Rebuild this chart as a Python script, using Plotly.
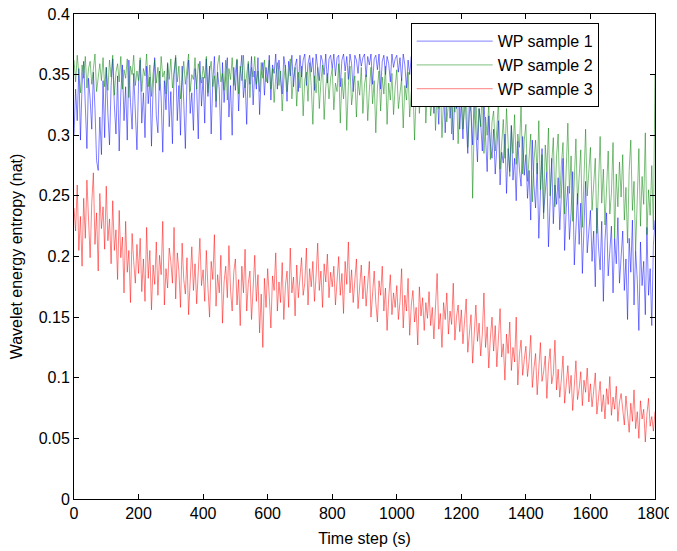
import plotly.graph_objects as go

# Time step (s): one sample every 5 s from 0 to 1800
time_step_s = list(range(0, 1801, 5))

# Wavelet energy entropy (nat), in thousandths of a nat
wp_sample_1_milli = [
    300, 338, 312, 355, 296, 342, 361, 318, 289, 347, 330, 305, 352, 322, 279, 271, 315, 284, 345, 298,
    356, 318, 292, 341, 363, 325, 301, 349, 287, 334, 358, 312, 340, 296, 362, 327, 305, 351, 319, 288,
    343, 362, 310, 335, 298, 357, 326, 348, 291, 339, 364, 316, 302, 353, 331, 286, 345, 321, 359, 307,
    336, 293, 350, 364, 312, 341, 300, 357, 328, 289, 346, 362, 318, 335, 304, 355, 340, 297, 361, 324,
    348, 310, 363, 332, 357, 301, 344, 365, 323, 352, 338, 296, 360, 327, 349, 364, 315, 341, 300, 356,
    337, 362, 320, 351, 366, 331, 346, 309, 359, 342, 365, 325, 353, 338, 364, 317, 349, 360, 333, 356,
    343, 366, 329, 358, 351, 367, 338, 362, 346, 334, 365, 355, 328, 361, 349, 366, 340, 357, 363, 336,
    366, 348, 362, 367, 341, 359, 366, 352, 364, 337, 367, 358, 345, 366, 361, 350, 367, 343, 363, 366,
    355, 367, 349, 364, 366, 340, 362, 367, 353, 365, 346, 367, 359, 336, 366, 362, 351, 367, 357, 364,
    367, 348, 365, 358, 367, 342, 363, 366, 354, 367, 338, 361, 366, 350, 365, 359, 344, 367, 356, 363,
    366, 352, 364, 345, 367, 358, 339, 362, 350, 365, 334, 357, 348, 361, 329, 354, 343, 359, 325, 349,
    356, 331, 344, 318, 350, 337, 309, 346, 325, 340, 302, 335, 349, 314, 331, 296, 338, 322, 343, 305,
    328, 297, 341, 312, 285, 330, 318, 292, 336, 304, 278, 322, 310, 287, 329, 299, 270, 316, 293, 281,
    305, 268, 294, 312, 259, 286, 277, 301, 252, 289, 270, 308, 263, 281, 246, 295, 272, 258, 299, 267,
    284, 248, 271, 230, 296, 259, 240, 277, 215, 262, 289, 236, 253, 270, 208, 248, 281, 227, 259, 243,
    265, 222, 248, 281, 205, 240, 258, 214, 236, 270, 193, 229, 252, 210, 244, 186, 231, 262, 203, 225,
    238, 196, 221, 175, 240, 208, 189, 229, 163, 213, 236, 184, 202, 225, 170, 215, 194, 232, 178, 205,
    221, 172, 198, 148, 215, 187, 230, 160, 205, 181, 139, 212, 176, 196, 152, 224, 168, 190, 143, 209,
    230,
]

wp_sample_2_milli = [
    362, 344, 366, 350, 335, 358, 347, 365, 339, 355, 361, 342, 353, 367, 336, 349, 359, 345, 364, 340,
    356, 337, 362, 348, 366, 333, 352, 359, 344, 365, 338, 354, 347, 363, 331, 357, 350, 366, 341, 353,
    345, 364, 336, 355, 349, 367, 340, 358, 332, 351, 362, 343, 356, 337, 365, 348, 353, 334, 360, 346,
    363, 339, 352, 366, 344, 357, 330, 349, 361, 342, 355, 367, 336, 350, 346, 364, 338, 359, 352, 343,
    357, 347, 365, 335, 353, 361, 340, 349, 328, 358, 366, 344, 351, 337, 362, 329, 355, 346, 364, 341,
    352, 363, 334, 357, 345, 366, 339, 350, 361, 331, 356, 348, 365, 342, 353, 336, 360, 347, 362, 344,
    350, 362, 338, 355, 327, 348, 360, 341, 353, 320, 345, 358, 336, 351, 363, 330, 347, 356, 324, 352,
    339, 357, 316, 346, 352, 328, 360, 341, 309, 349, 335, 356, 322, 344, 358, 313, 340, 351, 330, 347,
    355, 321, 343, 336, 359, 310, 347, 330, 352, 304, 341, 357, 325, 338, 349, 315, 345, 333, 356, 318,
    342, 350, 312, 337, 356, 326, 345, 302, 339, 353, 320, 348, 334, 357, 309, 343, 329, 351, 317, 340,
    354, 322, 338, 347, 306, 341, 329, 352, 315, 336, 345, 296, 333, 349, 318, 340, 326, 355, 310, 337,
    343, 316, 331, 350, 304, 337, 322, 345, 298, 330, 341, 311, 326, 347, 301, 334, 319, 338, 293, 327,
    336, 305, 321, 343, 290, 318, 329, 248, 312, 334, 296, 322, 307, 338, 285, 315, 300, 327, 280, 311,
    320, 287, 305, 329, 272, 298, 313, 281, 322, 294, 266, 308, 285, 317, 276, 301, 290, 324, 268, 296,
    309, 262, 287, 301, 245, 279, 296, 268, 312, 255, 284, 231, 292, 270, 306, 250, 277, 298, 241, 283,
    301, 248, 276, 294, 235, 268, 310, 252, 283, 229, 271, 297, 243, 264, 288, 224, 275, 305, 250, 267,
    290, 238, 265, 281, 219, 256, 299, 244, 272, 226, 260, 287, 235, 252, 294, 215, 268, 241, 278, 249,
    284, 230, 257, 211, 271, 296, 238, 262, 205, 249, 289, 225, 266, 243, 302, 218, 255, 234, 275, 222,
    350,
]

wp_sample_3_milli = [
    240, 221, 259, 205, 233, 192, 248, 215, 263, 228, 199, 244, 269, 210, 236, 188, 252, 223, 241, 206,
    258, 213, 231, 194, 246, 205, 222, 181, 238, 199, 216, 170, 229, 187, 205, 162, 219, 196, 178, 210,
    186, 215, 171, 198, 163, 224, 182, 205, 156, 193, 177, 212, 168, 201, 185, 229, 160, 190, 174, 207,
    196, 178, 224, 165, 203, 188, 158, 211, 181, 169, 199, 152, 186, 208, 172, 194, 161, 183, 215, 176,
    189, 163, 205, 174, 150, 196, 181, 218, 159, 185, 170, 201, 145, 179, 192, 166, 209, 172, 155, 187,
    198, 160, 181, 143, 192, 170, 206, 155, 178, 188, 148, 174, 201, 163, 185, 137, 169, 125, 182, 158,
    190, 167, 141, 184, 172, 203, 155, 179, 162, 195, 148, 176, 188, 158, 207, 170, 183, 151, 193, 166,
    185, 199, 168, 178, 207, 160, 190, 175, 196, 163, 184, 211, 172, 188, 158, 194, 179, 202, 166, 187,
    175, 192, 160, 183, 200, 168, 186, 153, 196, 177, 212, 170, 189, 162, 181, 198, 157, 176, 193, 165,
    184, 159, 175, 196, 150, 171, 188, 162, 146, 180, 168, 192, 155, 174, 139, 166, 185, 152, 170, 158,
    176, 148, 163, 190, 141, 168, 155, 182, 135, 160, 172, 146, 158, 127, 175, 151, 166, 139, 162, 149,
    171, 143, 158, 132, 165, 186, 140, 153, 125, 162, 148, 170, 136, 155, 144, 178, 131, 150, 160, 138,
    156, 128, 147, 165, 121, 141, 152, 112, 138, 160, 130, 145, 118, 136, 170, 125, 142, 108, 133, 150,
    122, 143, 109, 131, 157, 117, 128, 98, 136, 120, 146, 106, 125, 113, 150, 94, 119, 131, 102, 115,
    126, 101, 114, 135, 92, 108, 120, 86, 112, 129, 97, 105, 118, 83, 110, 124, 95, 103, 131, 90,
    107, 84, 99, 118, 79, 93, 110, 87, 102, 73, 96, 114, 82, 91, 105, 77, 98, 88, 108, 80,
    95, 76, 89, 104, 70, 83, 97, 72, 86, 66, 91, 78, 101, 69, 84, 74, 93, 64, 80, 87,
    76, 61, 85, 68, 55, 79, 64, 90, 58, 72, 50, 81, 66, 74, 47, 70, 83, 60, 68, 56,
    72,
]

series_names = ["WP sample 1", "WP sample 2", "WP sample 3"]
series_colors = ["rgb(0,0,255)", "rgb(0,128,0)", "rgb(255,0,0)"]

y_tick_values = [0, 0.05, 0.1, 0.15, 0.2, 0.25, 0.3, 0.35, 0.4]
y_tick_labels = ["0", "0.05", "0.1", "0.15", "0.2", "0.25", "0.3", "0.35", "0.4"]
x_tick_values = [0, 200, 400, 600, 800, 1000, 1200, 1400, 1600, 1800]

fig = go.Figure()
for name, color, vals in zip(series_names, series_colors,
                             [wp_sample_1_milli, wp_sample_2_milli, wp_sample_3_milli]):
    fig.add_trace(go.Scatter(
        x=time_step_s,
        y=[v / 1000 for v in vals],
        mode="lines",
        name=name,
        line=dict(color=color, width=0.5),
    ))

font_family = "Liberation Sans, Arial, Helvetica, sans-serif"
axis_common = dict(
    showline=True, linecolor="black", linewidth=1, mirror="ticks",
    ticks="inside", ticklen=5, tickcolor="black", tickwidth=1,
    showgrid=False, zeroline=False, automargin=False,
    ticklabeloverflow="allow",
    tickfont=dict(family=font_family, size=16, color="black"),
)

# The page body adds an 8 px offset, so the figure is sized 8 px smaller
fig.update_layout(
    width=669, height=543,
    margin=dict(l=66, r=22, t=6, b=52),
    paper_bgcolor="white", plot_bgcolor="white",
    font=dict(family=font_family, size=16, color="black"),
    xaxis=dict(
        range=[0, 1800], tickvals=x_tick_values,
        title=dict(text="Time step (s)", font=dict(size=16), standoff=11),
        **axis_common,
    ),
    yaxis=dict(
        range=[0, 0.4], tickvals=y_tick_values, ticktext=y_tick_labels,
        title=dict(text="Wavelet energy entropy (nat)", font=dict(size=16), standoff=20),
        **axis_common,
    ),
    legend=dict(
        x=0.5795, y=0.981, xanchor="left", yanchor="top",
        bgcolor="white", bordercolor="black", borderwidth=1,
        font=dict(family=font_family, size=16, color="black"),
        itemwidth=76,
    ),
    showlegend=True,
)

fig.write_html("out.html")
